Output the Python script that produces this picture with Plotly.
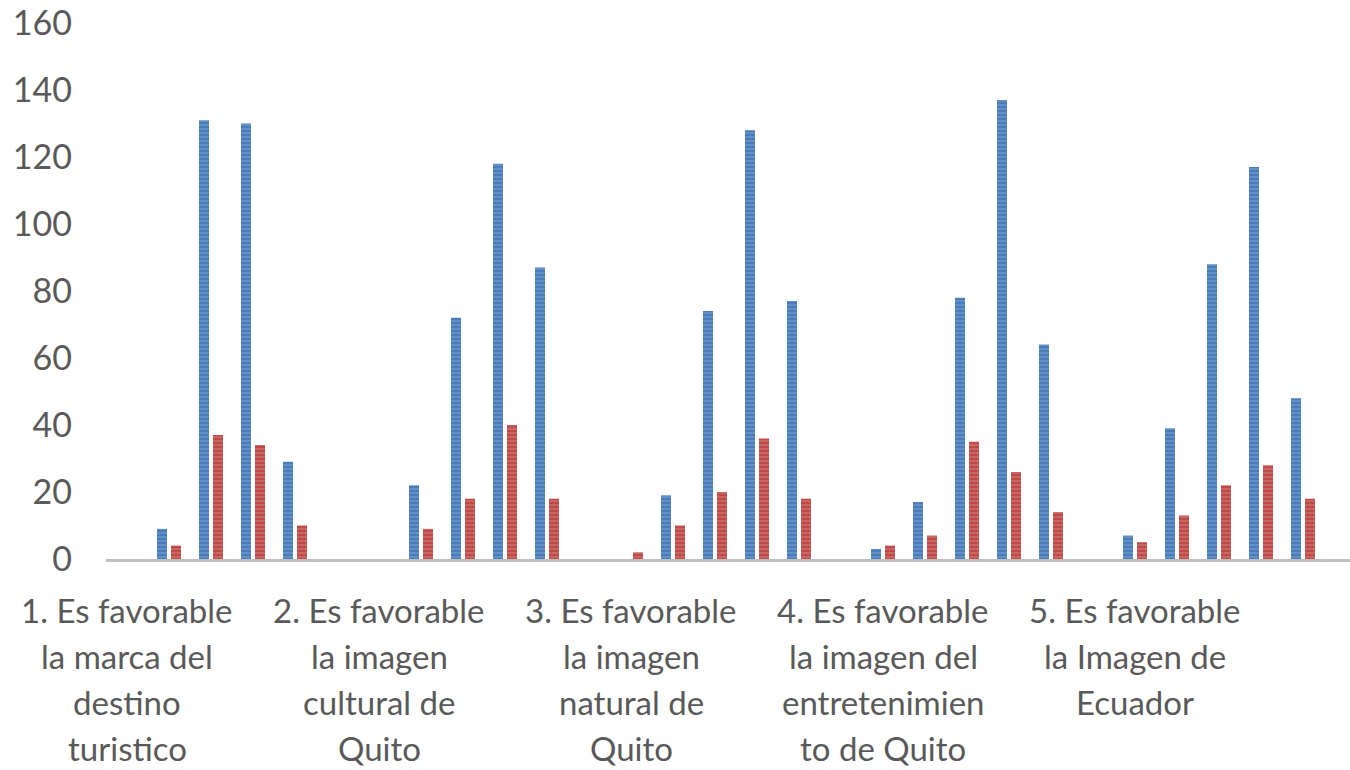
import plotly.graph_objects as go

# Question labels (one per group of 6 slots), lines separated by <br>
questions = [
    "1. Es favorable<br>la marca del<br>destino<br>turistico",
    "2. Es favorable<br>la imagen<br>cultural de<br>Quito",
    "3. Es favorable<br>la imagen<br>natural de<br>Quito",
    "4. Es favorable<br>la imagen del<br>entretenimien<br>to de Quito",
    "5. Es favorable<br>la Imagen de<br>Ecuador",
]

# Values per slot (6 slots per question)
blue_q1 = [0, 9, 131, 130, 29, 0]
blue_q2 = [0, 22, 72, 118, 87, 0]
blue_q3 = [0, 19, 74, 128, 77, 0]
blue_q4 = [3, 17, 78, 137, 64, 0]
blue_q5 = [7, 39, 88, 117, 48, 0]

red_q1 = [0, 4, 37, 34, 10, 0]
red_q2 = [0, 9, 18, 40, 18, 0]
red_q3 = [2, 10, 20, 36, 18, 0]
red_q4 = [4, 7, 35, 26, 14, 0]
red_q5 = [5, 13, 22, 28, 18, 0]

y_ticks = [0, 20, 40, 60, 80, 100, 120, 140, 160]

blue = blue_q1 + blue_q2 + blue_q3 + blue_q4 + blue_q5
red = red_q1 + red_q2 + red_q3 + red_q4 + red_q5
slots = list(range(len(blue)))
group_size = len(blue_q1)
label_slots = [i * group_size for i in range(len(questions))]

GRAY = "#595959"
FONT = "Lato"

fig = go.Figure()
fig.add_trace(go.Bar(
    x=slots, y=blue, name="Serie 1",
    marker=dict(
        color="#4A7CBA",
        line=dict(width=0),
        pattern=dict(shape="-", bgcolor="#4A7CBA", fgcolor="#8AADDC",
                     size=4, solidity=0.4, fillmode="overlay"),
    ),
))
fig.add_trace(go.Bar(
    x=slots, y=red, name="Serie 2",
    marker=dict(
        color="#BE4B48",
        line=dict(width=0),
        pattern=dict(shape="-", bgcolor="#BE4B48", fgcolor="#DB8C8A",
                     size=4, solidity=0.4, fillmode="overlay"),
    ),
))

annotations = []
for s, q in zip(label_slots, questions):
    for k, line in enumerate(q.split("<br>")):
        annotations.append(dict(
            x=s, y=0, xref="x", yref="y", text=line, showarrow=False,
            xanchor="center", yanchor="middle", yshift=-(51 + 46 * k),
            font=dict(family=FONT, size=33, color=GRAY),
        ))

fig.update_layout(
    width=1350, height=770,
    margin=dict(l=106, r=0, t=22.5, b=210.5, autoexpand=False),
    paper_bgcolor="white", plot_bgcolor="white",
    barmode="group", bargap=0.333, bargroupgap=0.2857,
    showlegend=False,
    annotations=annotations,
    font=dict(family=FONT, color=GRAY),
)
fig.update_xaxes(
    range=[-0.5, -0.5 + 1244 / 42], showgrid=False, zeroline=False,
    showticklabels=False, ticks="", automargin=False,
    showline=True, linecolor="#BFBFBF", linewidth=3,
)
fig.update_yaxes(
    range=[0, 160], tickvals=y_ticks, showgrid=False, zeroline=False,
    showline=False, ticks="", ticklabelstandoff=33, automargin=False,
    tickfont=dict(family=FONT, size=34, color=GRAY),
)

fig.write_html(
    "out.html",
    config={"displayModeBar": False},
    post_script="document.body.style.margin='0px';document.body.style.overflow='hidden';",
)
